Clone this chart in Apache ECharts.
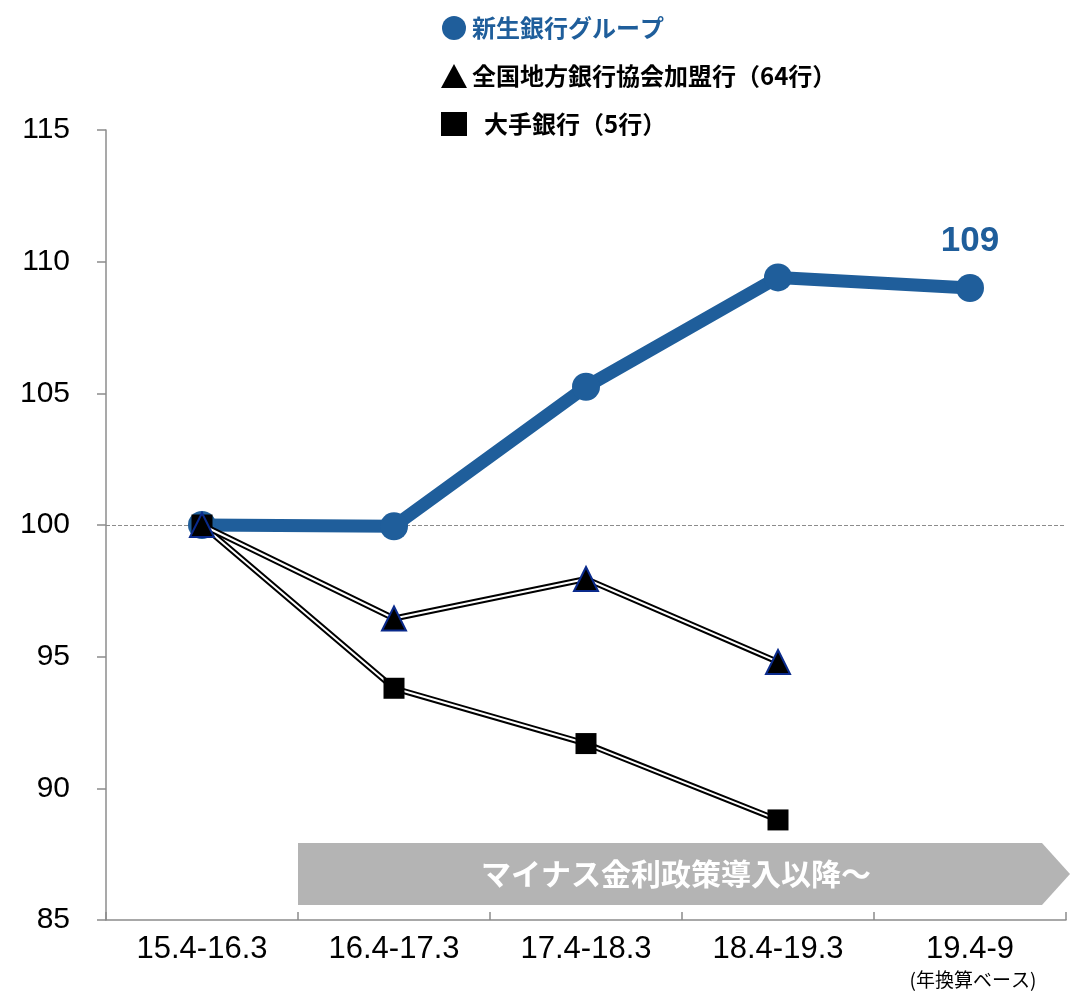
<!DOCTYPE html>
<html>
<head>
<meta charset="utf-8">
<script src="https://cdn.jsdelivr.net/npm/echarts@6/dist/echarts.min.js"></script>
<style>
  html, body { margin: 0; padding: 0; background: #fff; }
  #chart { width: 1077px; height: 995px; }
</style>
</head>
<body>
<div id="chart"></div>
<script>
// Periods on the x axis
const periods = ['15.4-16.3', '16.4-17.3', '17.4-18.3', '18.4-19.3', '19.4-9'];
// Index values (15.4-16.3 = 100)
const shinsei = [100, 99.95, 105.25, 109.4, 109];
const regional = [100, 96.45, 97.95, 94.8, null];
const major = [100, 93.8, 91.7, 88.8, null];
// Y axis ticks
const yTicks = { min: 85, max: 115, interval: 5 };

const names = ['新生銀行グループ', '全国地方銀行協会加盟行（64行）', '大手銀行（5行）'];
const BLUE = '#1F5E9B';
const FONT_LATIN = '"Liberation Sans", Arial, sans-serif';
const FONT_JP = '"Noto Sans CJK JP", sans-serif';

const chart = echarts.init(document.getElementById('chart'));

// Compound (black-white-black) line: a thick black line with a thin white line on top
function doubleLine(name, data, symbol, symbolSize, itemStyle, z) {
  return [
    {
      name: name, type: 'line', data: data, z: z,
      symbol: symbol, symbolSize: symbolSize,
      lineStyle: { color: '#000', width: 6 },
      itemStyle: itemStyle,
      emphasis: { disabled: true }
    },
    {
      name: name + '_inner', type: 'line', data: data, z: z,
      symbol: 'none', silent: true,
      lineStyle: { color: '#fff', width: 2 },
      emphasis: { disabled: true }
    }
  ];
}

const option = {
  animation: false,
  grid: { left: 106, right: 11, top: 130, bottom: 75 },
  legend: {
    orient: 'vertical',
    left: 436,
    top: 11,
    itemWidth: 26,
    itemHeight: 24,
    itemGap: 24,
    selectedMode: false,
    textStyle: { fontFamily: FONT_JP, fontWeight: 'bold', fontSize: 24, lineHeight: 24, color: '#000' },
    data: [
      { name: names[0], icon: 'circle', itemStyle: { color: BLUE }, textStyle: { color: BLUE } },
      { name: names[1], icon: 'triangle', itemStyle: { color: '#000', borderWidth: 0 } },
      { name: names[2], icon: 'rect', itemStyle: { color: '#000', borderWidth: 0 } }
    ],
    formatter: function (n) { return n === names[2] ? '\u2002' + n : n; }
  },
  xAxis: {
    type: 'category',
    data: periods,
    boundaryGap: true,
    axisLine: { lineStyle: { color: '#8C8C8C', width: 1.5 } },
    axisTick: { show: true, inside: true, length: 8, lineStyle: { color: '#8C8C8C', width: 1.5 } },
    axisLabel: {
      margin: 12,
      verticalAlign: 'top',
      formatter: function (v) {
        return v === '19.4-9' ? '{a|' + v + '}\n{b|(年換算ベース)}' : '{a|' + v + '}';
      },
      rich: {
        a: { fontFamily: FONT_LATIN, fontSize: 31, color: '#000', lineHeight: 34 },
        b: { fontFamily: FONT_JP, fontSize: 19, color: '#000', lineHeight: 28, padding: [0, 0, 0, 6] }
      }
    },
    splitLine: { show: false }
  },
  yAxis: {
    type: 'value',
    min: yTicks.min, max: yTicks.max, interval: yTicks.interval,
    axisLine: { show: true, lineStyle: { color: '#8C8C8C', width: 1.5 } },
    axisTick: { show: true, length: 9, lineStyle: { color: '#8C8C8C', width: 1.5 } },
    axisLabel: { fontFamily: FONT_LATIN, fontSize: 30, color: '#000', margin: 36 },
    splitLine: { show: false }
  },
  series: [
    {
      name: names[0], type: 'line', data: shinsei, z: 2,
      symbol: 'circle', symbolSize: 28,
      lineStyle: { color: BLUE, width: 13 },
      itemStyle: { color: BLUE },
      emphasis: { disabled: true },
      label: {
        show: true, position: 'top', distance: 15,
        fontFamily: FONT_LATIN, fontWeight: 'bold', fontSize: 35, color: BLUE,
        formatter: function (p) { return p.dataIndex === shinsei.length - 1 ? String(p.value) : ''; }
      },
      markLine: {
        silent: true, symbol: 'none', z: 1,
        label: { show: false },
        lineStyle: { color: '#8C8C8C', type: [4, 2], width: 1.2 },
        data: [{ yAxis: 100 }]
      }
    },
    ...doubleLine(names[2], major, 'rect', 21, { color: '#000' }, 3),
    ...doubleLine(names[1], regional, 'triangle', 24, { color: '#000', borderColor: '#0A2A8C', borderWidth: 2 }, 4)
  ]
};

chart.setOption(option);

// Arrow band marking the period after the negative interest rate policy
const xl = (chart.convertToPixel({ xAxisIndex: 0 }, 0) + chart.convertToPixel({ xAxisIndex: 0 }, 1)) / 2;
const xr = chart.convertToPixel({ xAxisIndex: 0 }, 4) + 72;
const yt = chart.convertToPixel({ yAxisIndex: 0 }, 87.92);
const yb = chart.convertToPixel({ yAxisIndex: 0 }, 85.57);
const ym = (yt + yb) / 2;
chart.setOption({
  graphic: [
    {
      type: 'polygon', z: 0,
      shape: { points: [[xl, yt], [xr, yt], [xr + 28, ym], [xr, yb], [xl, yb]] },
      style: { fill: '#B4B4B4' }
    },
    {
      type: 'text', z: 1,
      x: xl + 378, y: ym,
      style: {
        text: 'マイナス金利政策導入以降～',
        fill: '#fff', font: 'bold 30px "Noto Sans CJK JP", sans-serif',
        align: 'center', verticalAlign: 'middle'
      }
    }
  ]
});
</script>
</body>
</html>
